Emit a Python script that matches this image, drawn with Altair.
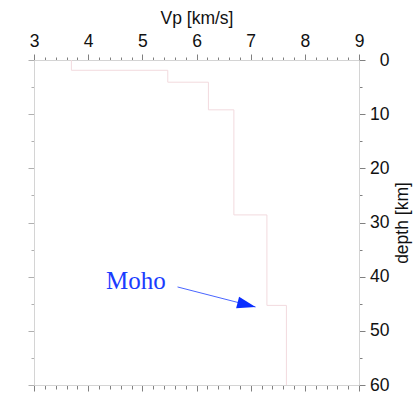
import altair as alt
import pandas as pd

# --- data ---
vp = [3.69, 5.47, 6.22, 6.69, 7.30, 7.66]          # layer P-wave velocity (km/s)
depth_top = [0.0, 1.9, 4.1, 9.2, 28.6, 45.3]        # layer top (km)
depth_bottom = [1.9, 4.1, 9.2, 28.6, 45.3, 60.0]    # layer bottom (km)

x_ticks = [round(3 + 0.2 * i, 1) for i in range(31)]
y_ticks = list(range(0, 61, 5))

moho_label = ["Moho"]
moho_text_vp = [4.33]
moho_text_depth = [42.3]
arrow_tail_vp = [5.65]
arrow_tail_depth = [41.9]
arrow_tip_vp = [7.09]
arrow_tip_depth = [45.6]

rows = []
k = 0
for v, t, b in zip(vp, depth_top, depth_bottom):
    rows.append({"vp": v, "depth": t, "order": k}); k += 1
    rows.append({"vp": v, "depth": b, "order": k}); k += 1
profile = pd.DataFrame(rows)

arrow = pd.DataFrame({"vp": arrow_tail_vp, "depth": arrow_tail_depth,
                      "vp2": arrow_tip_vp, "depth2": arrow_tip_depth})
head = pd.DataFrame({"vp": arrow_tip_vp, "depth": arrow_tip_depth})
label = pd.DataFrame({"vp": moho_text_vp, "depth": moho_text_depth, "text": moho_label})

xscale = alt.Scale(domain=[3, 9], nice=False, zero=False)
yscale = alt.Scale(domain=[0, 60], reverse=True, nice=False, zero=False)

FONT = "Liberation Sans"
major_x = "abs(datum.value - round(datum.value)) < 0.001"
major_y = "datum.value % 10 === 0"
DOMAIN = "#d4d4d4"
TICK = "#808080"

top_axis = alt.Axis(
    orient="top", values=x_ticks, title="Vp [km/s]",
    labelExpr=f"{major_x} ? format(datum.value, 'd') : ''",
    labelOverlap=False, labelFlush=False, labelFont=FONT, labelFontSize=17.5,
    labelColor="#111", labelPadding=4,
    tickSize={"condition": {"test": major_x, "value": 6}, "value": 3},
    tickColor=TICK, domainColor=DOMAIN, grid=False,
    titleFont=FONT, titleFontSize=17.5, titleFontWeight="normal", titleColor="#111",
    titlePadding=5,
)
right_axis = alt.Axis(
    orient="right", values=y_ticks, title="depth [km]",
    labelExpr=f"{major_y} ? format(datum.value, 'd') : ''",
    labelOverlap=False, labelFlush=False, labelFont=FONT, labelFontSize=17.5,
    labelColor="#111", labelAlign="right", labelPadding=24,
    tickSize={"condition": {"test": major_y, "value": 6}, "value": 3},
    tickColor=TICK, domainColor=DOMAIN, grid=False,
    titleFont=FONT, titleFontSize=17.5, titleFontWeight="normal", titleColor="#111",
    titleAngle=270, titlePadding=22,
)
bottom_axis = alt.Axis(
    orient="bottom", values=x_ticks, title=None, labels=False,
    tickSize={"condition": {"test": major_x, "value": 6}, "value": 4},
    tickColor=TICK, domainColor=DOMAIN, grid=False,
)
left_axis = alt.Axis(
    orient="left", values=y_ticks, title=None, labels=False,
    tickSize={"condition": {"test": major_y, "value": 6}, "value": 3},
    tickColor="#b0b0b0", domainColor=DOMAIN, grid=False,
)

line = alt.Chart(profile).mark_line(color="#f2dade", strokeWidth=1).encode(
    x=alt.X("vp:Q", scale=xscale, axis=top_axis),
    y=alt.Y("depth:Q", scale=yscale, axis=right_axis),
    order="order:Q",
)

rule = alt.Chart(arrow).mark_rule(color="#4a66ff", strokeWidth=1).encode(
    x=alt.X("vp:Q", scale=xscale, axis=bottom_axis),
    y=alt.Y("depth:Q", scale=yscale, axis=left_axis),
    x2="vp2:Q",
    y2="depth2:Q",
)

arrowhead = alt.Chart(head).mark_point(
    shape="M0,0L-1,-0.32L-1,0.32Z", size=1369, filled=True,
    color="#0a2eff", opacity=1, strokeWidth=0, angle=14.4,
).encode(
    x=alt.X("vp:Q", scale=xscale, axis=None),
    y=alt.Y("depth:Q", scale=yscale, axis=None),
)

text = alt.Chart(label).mark_text(
    align="left", baseline="alphabetic", font="Liberation Serif",
    fontSize=25, color="#1a3cff",
).encode(
    x=alt.X("vp:Q", scale=xscale, axis=None),
    y=alt.Y("depth:Q", scale=yscale, axis=None),
    text="text:N",
)

chart = alt.layer(line, rule, arrowhead, text).resolve_axis(
    x="independent", y="independent"
).properties(
    width=325, height=325,
    autosize=alt.AutoSizeParams(type="none"),
    padding={"left": 34, "top": 60, "right": 55, "bottom": 9},
    background="white",
).configure_view(strokeWidth=0)

chart.save("out.html", embed_options={"renderer": "svg", "actions": False})
